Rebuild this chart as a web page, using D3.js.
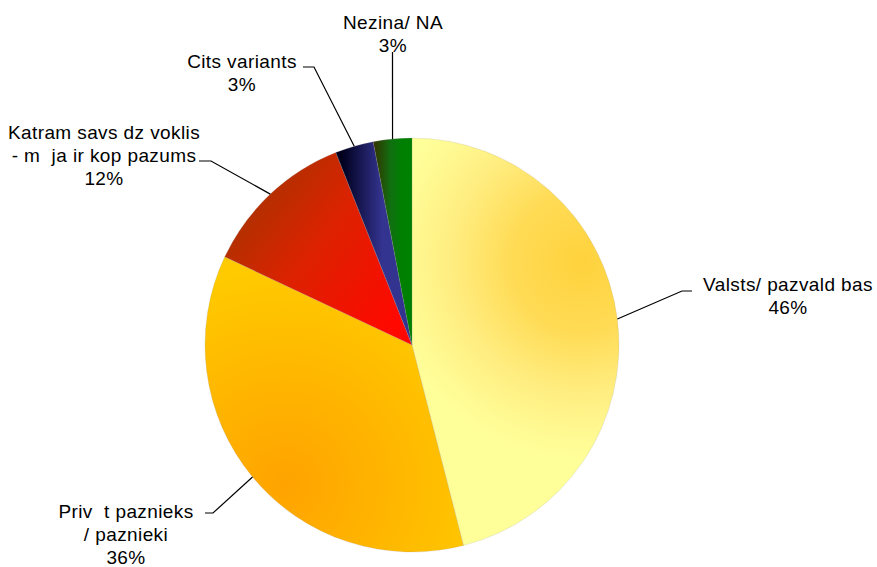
<!DOCTYPE html>
<html>
<head>
<meta charset="utf-8">
<script src="https://cdn.jsdelivr.net/npm/d3@7"></script>
<style>
  html, body { margin: 0; padding: 0; background: #fff; }
  svg { display: block; }
  text { font-family: "Liberation Sans", Arial, sans-serif; font-size: 19px; letter-spacing: 0.4px; fill: #000; }
</style>
</head>
<body>
<svg id="chart" width="877" height="567"></svg>
<script>
// ---- data ----
const categories = ["Valsts/ pazvald bas", "Priv  t paznieks / paznieki", "Katram savs dz voklis - m  ja ir kop pazums", "Cits variants", "Nezina/ NA"];
const labelLines = [
  ["Valsts/ pazvald bas"],
  ["Priv  t paznieks", "/ paznieki"],
  ["Katram savs dz voklis", "- m  ja ir kop pazums"],
  ["Cits variants"],
  ["Nezina/ NA"]
];
const values = [46, 36, 12, 3, 3];
const percentLabels = ["46%", "36%", "12%", "3%", "3%"];

// ---- layout / style ----
const cx = 412, cy = 345, R = 207;
const lineH = 23;
// label centre x, first baseline y, elbow point, horizontal end x
const labelLayout = [
  { x: 788, y: 291, elbow: [682, 291], endX: 692 },
  { x: 126, y: 518, elbow: [213, 513], endX: 205 },
  { x: 104, y: 139, elbow: [211, 161], endX: 199 },
  { x: 242, y: 68,  elbow: [314, 67],  endX: 303 },
  { x: 393, y: 29,  elbow: [392.5, 52], endX: 392.5 }
];

const svg = d3.select("#chart");
const defs = svg.append("defs");

// gradients defined in absolute page coordinates
function linGrad(id, x1, y1, x2, y2, stops) {
  const g = defs.append("linearGradient").attr("id", id)
    .attr("gradientUnits", "userSpaceOnUse")
    .attr("x1", x1).attr("y1", y1).attr("x2", x2).attr("y2", y2);
  stops.forEach(s => g.append("stop").attr("offset", s[0]).attr("stop-color", s[1]));
}
function radGrad(id, gx, gy, r, stops) {
  const g = defs.append("radialGradient").attr("id", id)
    .attr("gradientUnits", "userSpaceOnUse")
    .attr("cx", gx).attr("cy", gy).attr("r", r);
  stops.forEach(s => g.append("stop").attr("offset", s[0]).attr("stop-color", s[1]));
}
radGrad("g0", 582, 262, 200, [[0, "#FFD23C"], [0.35, "#FFDB55"], [0.65, "#FFED80"], [0.9, "#FFFB95"], [1, "#FFFF99"]]);
radGrad("g1", 285, 485, 215, [[0, "#FFA300"], [0.55, "#FFB800"], [1, "#FFCA00"]]);
linGrad("g2", 235, 200, 395, 325, [[0, "#A83300"], [0.45, "#DC2200"], [1, "#FF0800"]]);
linGrad("g3", 342, 150, 382, 150, [[0, "#00001E"], [1, "#333390"]]);
linGrad("g4", 374, 150, 402, 150, [[0, "#333300"], [0.6, "#107010"], [1, "#008000"]]);
const fills = ["url(#g0)", "url(#g1)", "url(#g2)", "url(#g3)", "url(#g4)"];
// slices are drawn relative to the centre: shift gradients back into that space
defs.selectAll("linearGradient, radialGradient").attr("gradientTransform", `translate(${-cx},${-cy})`);

const pie = d3.pie().sort(null).value(d => d).startAngle(0).endAngle(2 * Math.PI);
const arcs = pie(values);
const arc = d3.arc().innerRadius(0).outerRadius(R);
const edge = d3.arc().innerRadius(R).outerRadius(R);

const ga = svg.append("g").attr("transform", `translate(${cx},${cy})`);
ga.selectAll("path.slice").data(arcs).enter().append("path")
  .attr("class", "slice")
  .attr("d", arc)
  .attr("fill", (d, i) => fills[i])
  .attr("stroke", "#a0a0a0")
  .attr("stroke-width", 0.2);

// leader lines
const leaders = svg.append("g");
arcs.forEach((d, i) => {
  const c = edge.centroid(d);
  const p0 = [cx + c[0], cy + c[1]];
  const L = labelLayout[i];
  const pts = [p0, L.elbow, [L.endX, L.elbow[1]]];
  leaders.append("path")
    .attr("d", d3.line()(pts))
    .attr("fill", "none")
    .attr("stroke", "#000")
    .attr("stroke-width", 1.2);
});

// labels
const labels = svg.append("g");
arcs.forEach((d, i) => {
  const L = labelLayout[i];
  const lines = labelLines[i].concat([percentLabels[i]]);
  const t = labels.append("text").attr("text-anchor", "middle").attr("xml:space", "preserve");
  lines.forEach((ln, k) => {
    t.append("tspan").attr("x", L.x).attr("y", L.y + k * lineH).text(ln);
  });
});
</script>
</body>
</html>
